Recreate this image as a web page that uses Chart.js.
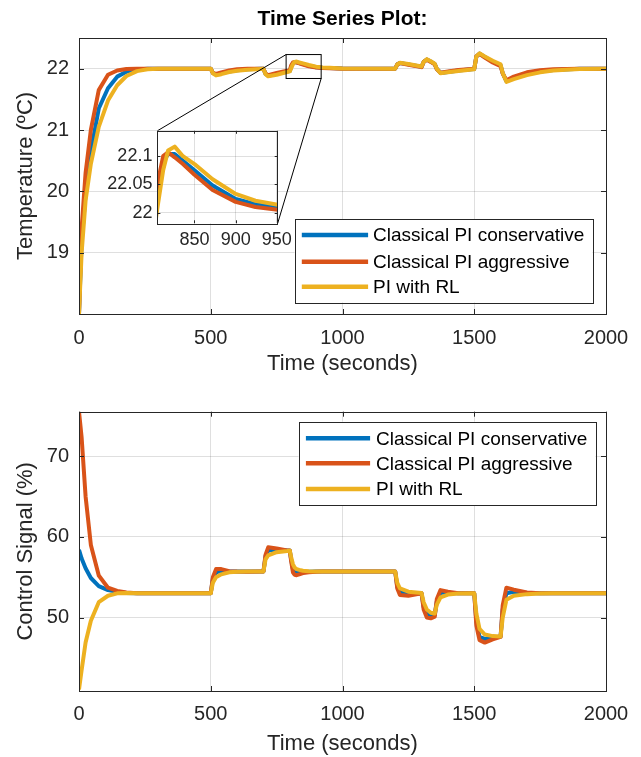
<!DOCTYPE html>
<html>
<head>
<meta charset="utf-8">
<title>Time Series Plot</title>
<script src="https://cdn.jsdelivr.net/npm/chart.js@4.4.1/dist/chart.umd.min.js"></script>
<style>
	body { margin: 0; background: #fff; }
	#wrap { position: relative; width: 641px; height: 757px; overflow: hidden; }
	canvas { position: absolute; }
</style>
</head>
<body>
<div id="wrap">
	<canvas id="tempChart" width="641" height="380" style="left:0px;top:0px"></canvas>
	<canvas id="ctrlChart" width="641" height="380" style="left:0px;top:377px"></canvas>
	<canvas id="zoomChart" width="198" height="140" style="left:100px;top:115px"></canvas>
</div>
<script>
// time axis shared by every series (seconds)
var timeSec = [0, 10, 25, 45, 75, 110, 145, 180, 220, 260, 300,
	500, 508, 520, 540, 570, 600, 640, 690, 700,
	708, 718, 750, 790, 800,
	805, 812, 818, 826, 836, 850, 872, 900, 924, 951, 1000,
	1200, 1208, 1218, 1250, 1300, 1308, 1320, 1335, 1350, 1358, 1372, 1400, 1440, 1500,
	1508, 1520, 1540, 1570, 1600, 1608, 1622, 1650, 1700, 1750, 1800, 1900, 2000];

// temperature (degC)
var tempConservative = [18.0, 19.2, 19.95, 20.65, 21.35, 21.68, 21.87, 21.95, 21.985, 22.0, 22.0,
	22.0, 21.93, 21.905, 21.925, 21.955, 21.975, 21.99, 21.998, 22.0,
	21.915, 21.885, 21.915, 21.955, 21.962,
	22.025, 22.09, 22.104, 22.104, 22.092, 22.075, 22.048, 22.024, 22.015, 22.009, 22.001,
	22.0, 22.07, 22.092, 22.07, 22.03, 22.11, 22.15, 22.115, 22.075, 21.995, 21.93, 21.947, 21.97, 21.994,
	22.2, 22.245, 22.19, 22.115, 22.055, 21.925, 21.795, 21.85, 21.915, 21.955, 21.98, 21.998, 22.0];
var tempAggressive = [18.0, 19.4, 20.3, 21.0, 21.65, 21.9, 21.97, 21.995, 22.0, 22.0, 22.0,
	22.0, 21.93, 21.915, 21.94, 21.97, 21.99, 22.0, 22.0, 22.0,
	21.92, 21.895, 21.93, 21.965, 21.97,
	22.05, 22.1, 22.107, 22.098, 22.086, 22.067, 22.04, 22.019, 22.01, 22.005, 22.0,
	22.0, 22.07, 22.09, 22.065, 22.025, 22.11, 22.145, 22.11, 22.07, 21.99, 21.935, 21.955, 21.98, 21.998,
	22.2, 22.24, 22.18, 22.1, 22.04, 21.92, 21.81, 21.87, 21.94, 21.975, 21.99, 22.0, 22.0];
var tempRL = [18.0, 19.0, 19.85, 20.45, 21.05, 21.48, 21.73, 21.88, 21.96, 21.99, 22.0,
	22.0, 21.925, 21.89, 21.91, 21.945, 21.965, 21.984, 21.995, 21.997,
	21.91, 21.875, 21.9, 21.945, 21.955,
	22.008, 22.075, 22.11, 22.117, 22.1, 22.086, 22.059, 22.033, 22.021, 22.014, 22.003,
	22.0, 22.07, 22.095, 22.075, 22.035, 22.11, 22.155, 22.12, 22.08, 22.0, 21.925, 21.94, 21.962, 21.99,
	22.2, 22.25, 22.2, 22.13, 22.07, 21.93, 21.785, 21.83, 21.895, 21.94, 21.97, 21.995, 22.0];

// control signal (%)
var ctrlConservative = [58.4, 57.3, 56.1, 54.9, 53.9, 53.4, 53.2, 53.05, 53.0, 53.0, 53.0,
	53.0, 54.8, 55.6, 55.75, 55.7, 55.7, 55.7, 55.7, 55.7,
	57.6, 58.3, 58.4, 58.3, 58.3,
	57.2, 56.0, 55.6, 55.5, 55.55, 55.62, 55.68, 55.7, 55.7, 55.7, 55.7,
	55.7, 53.8, 53.1, 52.95, 53.0, 51.3, 50.4, 50.2, 50.3, 52.0, 53.1, 53.05, 53.0, 53.0,
	49.5, 47.6, 47.35, 47.5, 47.65, 51.0, 53.0, 53.2, 53.05, 53.0, 53.0, 53.0, 53.0];
var ctrlAggressive = [75.5, 72.3, 65.0, 59.0, 55.2, 53.7, 53.3, 53.1, 53.0, 53.0, 53.0,
	53.0, 55.0, 56.0, 56.0, 55.75, 55.7, 55.68, 55.7, 55.7,
	57.8, 58.7, 58.55, 58.3, 58.3,
	57.0, 55.6, 55.3, 55.25, 55.35, 55.5, 55.62, 55.68, 55.7, 55.7, 55.7,
	55.7, 53.6, 52.8, 52.7, 53.0, 51.0, 50.0, 49.9, 50.1, 52.3, 53.4, 53.2, 53.02, 53.0,
	49.0, 47.2, 46.9, 47.3, 47.6, 51.5, 53.7, 53.45, 53.1, 53.0, 53.0, 53.0, 53.0];
var ctrlRL = [41.1, 43.5, 46.9, 49.6, 51.9, 52.7, 53.0, 53.05, 53.02, 53.0, 53.0,
	53.0, 54.3, 55.0, 55.35, 55.6, 55.68, 55.7, 55.7, 55.7,
	57.2, 57.7, 58.1, 58.25, 58.3,
	57.5, 56.6, 56.2, 56.0, 55.9, 55.8, 55.74, 55.71, 55.7, 55.7, 55.7,
	55.7, 54.3, 53.6, 53.2, 53.05, 51.9, 51.0, 50.6, 50.5, 51.6, 52.5, 52.85, 52.98, 53.0,
	50.5, 48.6, 47.9, 47.7, 47.65, 50.0, 52.2, 52.7, 52.9, 52.97, 53.0, 53.0, 53.0];

var timeTicks = [0, 500, 1000, 1500, 2000];
var tempTicks = [19, 20, 21, 22];
var ctrlTicks = [50, 60, 70];
var insetTimeTicks = [850, 900, 950];
var insetTempTicks = [22, 22.05, 22.1];

var seriesNames = ['Classical PI conservative', 'Classical PI aggressive', 'PI with RL'];
var seriesColors = ['#0072BD', '#D95319', '#EDB120'];

// region shown in the inset (time, temperature)
var zoomBoxTime = [786, 919];
var zoomBoxTemp = [21.84, 22.23];

var axisColor = '#262626';
var gridColor = 'rgba(38,38,38,0.15)';
var fontFamily = '"Liberation Sans", Arial, Helvetica, sans-serif';
Chart.defaults.font.family = fontFamily;
Chart.defaults.color = axisColor;

function toPoints(ys) {
	return timeSec.map(function (t, i) { return { x: t, y: ys[i] }; });
}

function makeDatasets(seriesList) {
	return seriesList.map(function (ys, i) {
		return {
			label: seriesNames[i],
			data: toPoints(ys),
			borderColor: seriesColors[i],
			backgroundColor: seriesColors[i],
			borderWidth: 4,
			borderJoinStyle: 'round',
			pointRadius: 0,
			fill: false,
			tension: 0,
			clip: 0,
			// last series drawn on top, like matlab
			order: seriesList.length - i
		};
	});
}

function fixedTicks(list) {
	return function (scale) {
		scale.ticks = list.map(function (v) { return { value: v }; });
	};
}

function plainLabel(v) { return String(v); }

// box around the axes, inward tick marks, legend, title and zoom marks
var matlabAxes = {
	id: 'matlabAxes',
	beforeDraw: function (chart, args, opts) {
		var a = chart.chartArea, ctx = chart.ctx;
		if (opts.whiteArea) {
			ctx.save();
			ctx.fillStyle = '#fff';
			ctx.fillRect(a.left, a.top, a.right - a.left, a.bottom - a.top);
			ctx.restore();
		}
	},
	afterDatasetsDraw: function (chart, args, opts) {
		var ctx = chart.ctx, a = chart.chartArea;
		var xs = chart.scales.x, ys = chart.scales.y;
		var tl = opts.tickLen || 5;
		ctx.save();
		ctx.strokeStyle = axisColor;
		ctx.lineWidth = 1;
		ctx.beginPath();
		xs.ticks.forEach(function (t) {
			var px = Math.round(xs.getPixelForValue(t.value)) + 0.5;
			ctx.moveTo(px, a.bottom); ctx.lineTo(px, a.bottom - tl);
			ctx.moveTo(px, a.top); ctx.lineTo(px, a.top + tl);
		});
		ys.ticks.forEach(function (t) {
			var py = Math.round(ys.getPixelForValue(t.value)) + 0.5;
			ctx.moveTo(a.left, py); ctx.lineTo(a.left + tl, py);
			ctx.moveTo(a.right, py); ctx.lineTo(a.right - tl, py);
		});
		ctx.stroke();
		ctx.strokeRect(Math.round(a.left) + 0.5, Math.round(a.top) + 0.5,
			Math.round(a.right - a.left), Math.round(a.bottom - a.top));

		if (opts.zoomBox) {
			var x0 = xs.getPixelForValue(zoomBoxTime[0]), x1 = xs.getPixelForValue(zoomBoxTime[1]);
			var y0 = ys.getPixelForValue(zoomBoxTemp[1]), y1 = ys.getPixelForValue(zoomBoxTemp[0]);
			ctx.strokeStyle = '#000';
			ctx.strokeRect(x0, y0, x1 - x0, y1 - y0);
			var ins = opts.zoomBox.chart.chartArea, off = opts.zoomBox.offset;
			ctx.beginPath();
			ctx.moveTo(x0, y0); ctx.lineTo(off.left + ins.left, off.top + ins.top);
			ctx.moveTo(x1, y1); ctx.lineTo(off.left + ins.right, off.top + ins.bottom);
			ctx.stroke();
		}
		ctx.restore();
	},
	afterDraw: function (chart, args, opts) {
		var ctx = chart.ctx, a = chart.chartArea;
		ctx.save();
		if (opts.title) {
			ctx.fillStyle = '#000';
			ctx.font = 'bold 21px ' + fontFamily;
			ctx.textAlign = 'center';
			ctx.textBaseline = 'middle';
			ctx.fillText(opts.title.text, (a.left + a.right) / 2, opts.title.y);
		}
		var lg = opts.legend;
		if (lg) {
			var bx = a.right - lg.right - lg.width;
			var by = lg.top !== undefined ? a.top + lg.top : a.bottom - lg.bottom - lg.height;
			ctx.fillStyle = '#fff';
			ctx.fillRect(bx, by, lg.width, lg.height);
			ctx.strokeStyle = axisColor;
			ctx.lineWidth = 1;
			ctx.strokeRect(Math.round(bx) + 0.5, Math.round(by) + 0.5, Math.round(lg.width), Math.round(lg.height));
			ctx.font = '19px ' + fontFamily;
			ctx.textAlign = 'left';
			ctx.textBaseline = 'middle';
			seriesNames.forEach(function (name, i) {
				var ry = by + lg.rows[i];
				ctx.strokeStyle = seriesColors[i];
				ctx.lineWidth = 4.5;
				ctx.beginPath();
				ctx.moveTo(bx + lg.lineX[0], ry);
				ctx.lineTo(bx + lg.lineX[1], ry);
				ctx.stroke();
				ctx.fillStyle = '#000';
				ctx.fillText(name, bx + lg.textX, ry + 1);
			});
		}
		ctx.restore();
	}
};

function baseOptions() {
	return {
		responsive: false,
		animation: false,
		events: [],
		plugins: { legend: { display: false }, tooltip: { enabled: false } }
	};
}

// ---------- inset (zoom on the 800 s step) ----------
var insetOpts = baseOptions();
insetOpts.layout = { padding: { top: 6, right: 18, left: 0, bottom: 0 } };
insetOpts.scales = {
	x: {
		type: 'linear', min: 805, max: 951,
		afterBuildTicks: fixedTicks(insetTimeTicks),
		afterFit: function (s) { s.height = 31.7; },
		grid: { color: gridColor, drawTicks: false },
		border: { display: false },
		ticks: { font: { size: 18 }, padding: 6, maxRotation: 0, callback: plainLabel }
	},
	y: {
		type: 'linear', min: 21.981, max: 22.145,
		afterBuildTicks: fixedTicks(insetTempTicks),
		afterFit: function (s) { s.width = 57.4; },
		grid: { color: gridColor, drawTicks: false },
		border: { display: false },
		ticks: { font: { size: 18 }, padding: 5, callback: plainLabel }
	}
};
insetOpts.plugins.matlabAxes = { whiteArea: true, tickLen: 3 };

var insetChart = new Chart(document.getElementById('zoomChart').getContext('2d'), {
	type: 'line',
	data: { datasets: makeDatasets([tempConservative, tempAggressive, tempRL]) },
	options: insetOpts,
	plugins: [matlabAxes]
});

// ---------- temperature ----------
var tempOpts = baseOptions();
tempOpts.layout = { padding: { top: 38, right: 35, left: 0, bottom: 0 } };
tempOpts.scales = {
	x: {
		type: 'linear', min: 0, max: 2000,
		afterBuildTicks: fixedTicks(timeTicks),
		afterFit: function (s) { s.height = 66; },
		grid: { color: gridColor, drawTicks: false },
		border: { display: false },
		ticks: { font: { size: 20 }, padding: 12, maxRotation: 0, callback: plainLabel },
		title: { display: true, text: 'Time (seconds)', font: { size: 22 }, padding: { top: 0, bottom: 3 } }
	},
	y: {
		type: 'linear', min: 18, max: 22.5,
		afterBuildTicks: fixedTicks(tempTicks),
		afterFit: function (s) { s.width = 79; },
		grid: { color: gridColor, drawTicks: false },
		border: { display: false },
		ticks: { font: { size: 20 }, padding: 10, callback: plainLabel },
		title: { display: true, text: 'Temperature (ºC)', font: { size: 22 }, padding: { top: 13, bottom: 0 } }
	}
};
tempOpts.plugins.matlabAxes = {
	title: { text: 'Time Series Plot:', y: 19 },
	legend: { right: 13.5, bottom: 11.5, width: 298, height: 83.5, rows: [16, 42.7, 67.7], lineX: [7.3, 73.6], textX: 78.6 },
	zoomBox: { chart: insetChart, offset: { left: 100, top: 115 } }
};

var tempChart = new Chart(document.getElementById('tempChart').getContext('2d'), {
	type: 'line',
	data: { datasets: makeDatasets([tempConservative, tempAggressive, tempRL]) },
	options: tempOpts,
	plugins: [matlabAxes]
});

// ---------- control signal ----------
var ctrlOpts = baseOptions();
ctrlOpts.layout = { padding: { top: 34.7, right: 35, left: 0, bottom: 0 } };
ctrlOpts.scales = {
	x: {
		type: 'linear', min: 0, max: 2000,
		afterBuildTicks: fixedTicks(timeTicks),
		afterFit: function (s) { s.height = 66; },
		grid: { color: gridColor, drawTicks: false },
		border: { display: false },
		ticks: { font: { size: 20 }, padding: 11, maxRotation: 0, callback: plainLabel },
		title: { display: true, text: 'Time (seconds)', font: { size: 22 }, padding: { top: 0, bottom: 0 } }
	},
	y: {
		type: 'linear', min: 40.9, max: 75.5,
		afterBuildTicks: fixedTicks(ctrlTicks),
		afterFit: function (s) { s.width = 79; },
		grid: { color: gridColor, drawTicks: false },
		border: { display: false },
		ticks: { font: { size: 20 }, padding: 10, callback: plainLabel },
		title: { display: true, text: 'Control Signal (%)', font: { size: 22 }, padding: { top: 13, bottom: 0 } }
	}
};
ctrlOpts.plugins.matlabAxes = {
	legend: { right: 10.5, top: 10, width: 297, height: 83.3, rows: [16.6, 41.6, 67.3], lineX: [7.4, 71.6], textX: 77.6 }
};

var ctrlChart = new Chart(document.getElementById('ctrlChart').getContext('2d'), {
	type: 'line',
	data: { datasets: makeDatasets([ctrlConservative, ctrlAggressive, ctrlRL]) },
	options: ctrlOpts,
	plugins: [matlabAxes]
});
</script>
</body>
</html>
